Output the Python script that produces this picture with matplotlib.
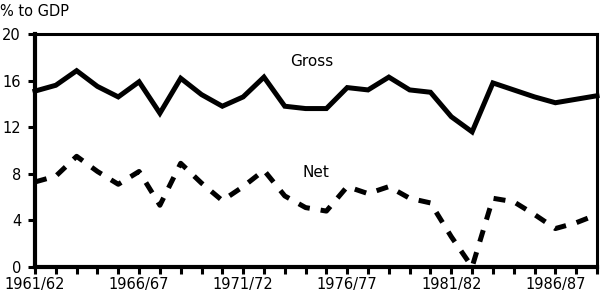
import numpy as np
import matplotlib
matplotlib.use("Agg")
import matplotlib.pyplot as plt

# fiscal years 1961/62 .. 1988/89
years = ["%d/%02d" % (y, (y + 1) % 100) for y in range(1961, 1989)]

gross = [15.1, 15.6, 16.85, 15.5, 14.6, 15.9, 13.2, 16.2, 14.8, 13.8,
         14.6, 16.3, 13.8, 13.6, 13.6, 15.4, 15.2, 16.3, 15.2, 15.0,
         12.9, 11.6, 15.8, 15.2, 14.6, 14.1, 14.4, 14.7]

net = [7.3, 7.8, 9.5, 8.2, 7.1, 8.2, 5.3, 8.9, 7.2, 5.7,
       6.9, 8.3, 6.1, 5.1, 4.8, 6.9, 6.3, 6.9, 5.9, 5.5,
       2.6, 0.0, 5.9, 5.6, 4.5, 3.3, 3.8, 4.5]

label_years = ["1961/62", "1966/67", "1971/72", "1976/77", "1981/82", "1986/87"]
yticks = [0, 4, 8, 12, 16, 20]

plt.rcParams['font.family'] = ['DejaVu Sans']

fig = plt.figure(figsize=(6.0, 2.95), dpi=100)
ax = fig.add_axes([35 / 600, 1 - 267 / 295, 562 / 600, 233 / 295])

x = np.arange(len(years))
ax.plot(x, gross, color="black", lw=3.6, solid_joinstyle="miter", clip_on=False)
ax.plot(x, net, color="black", lw=3.6, linestyle=(0, (2.4, 2.2)),
        dash_capstyle="butt", clip_on=False)

ax.set_xlim(0, len(years) - 1)
ax.set_ylim(0, 20)

ax.set_xticks(x, minor=True)
ax.set_xticks([years.index(y) for y in label_years])
ax.set_xticklabels(label_years)
ax.set_yticks(yticks)
ax.set_yticklabels([str(v) for v in yticks])

ax.tick_params(axis="both", which="both", direction="out", width=2.2,
               length=5, labelsize=10.5, colors="black")
ax.tick_params(axis="x", which="major", pad=2)
ax.tick_params(axis="y", pad=5)

for side, w in [("left", 3), ("bottom", 3), ("top", 2.2), ("right", 2.2)]:
    ax.spines[side].set_linewidth(w)

ax.text(13.3, 17.6, "Gross", fontsize=11, ha="center", va="center")
ax.text(13.5, 8.1, "Net", fontsize=11, ha="center", va="center")
fig.text(0.0, 1 - 11 / 295, "% to GDP", fontsize=10.5, ha="left", va="center")

fig.savefig("out.png", dpi=100)
